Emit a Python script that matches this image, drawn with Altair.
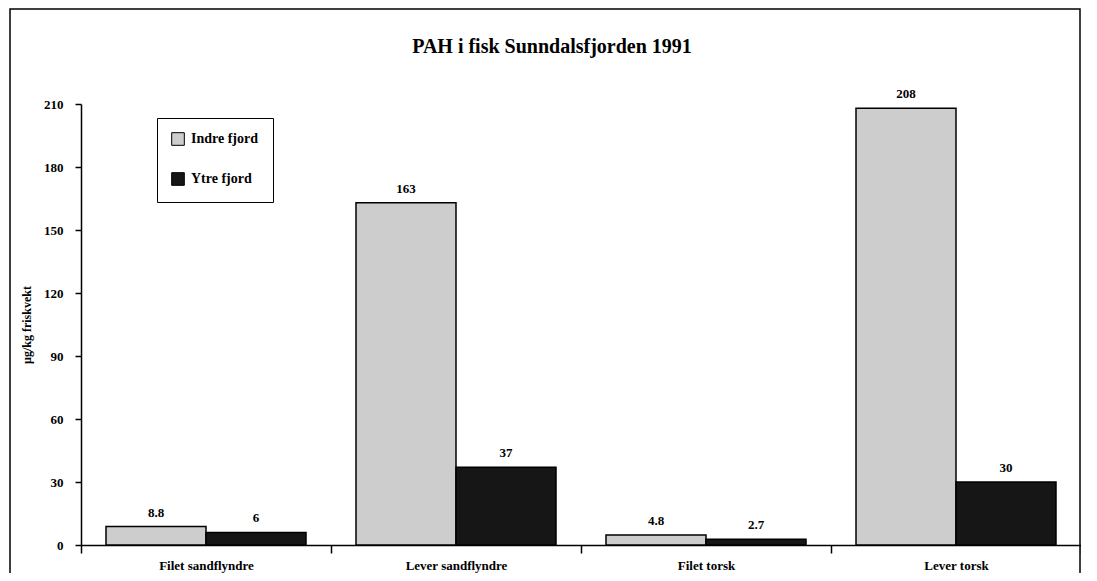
import altair as alt
import pandas as pd

categories = ["Filet sandflyndre", "Lever sandflyndre", "Filet torsk", "Lever torsk"]
series = ["Indre fjord", "Ytre fjord"]
indre = [8.8, 163, 4.8, 208]
ytre = [6, 37, 2.7, 30]
indre_labels = ["8.8", "163", "4.8", "208"]
ytre_labels = ["6", "37", "2.7", "30"]
y_ticks = [0, 30, 60, 90, 120, 150, 180, 210]
title_text = "PAH i fisk Sunndalsfjorden 1991"

rows = []
for c, v, l in zip(categories, indre, indre_labels):
    rows.append({"kategori": c, "serie": series[0], "verdi": v, "etikett": l})
for c, v, l in zip(categories, ytre, ytre_labels):
    rows.append({"kategori": c, "serie": series[1], "verdi": v, "etikett": l})
df = pd.DataFrame(rows)

FONT = "Liberation Serif, Times New Roman, serif"

x_enc = alt.X(
    "kategori:N",
    sort=categories,
    scale=alt.Scale(paddingInner=0, paddingOuter=0),
    axis=alt.Axis(
        title=None,
        labelAngle=0,
        tickBand="extent",
        tickSize=8,
        tickColor="black",
        tickWidth=1.5,
        domainColor="black",
        domainWidth=1.5,
        labelColor="black",
        labelFont=FONT,
        labelFontSize=13,
        labelFontWeight="bold",
        labelPadding=6,
        grid=False,
    ),
)
xoff = alt.XOffset("serie:N", sort=series, scale=alt.Scale(paddingInner=0, paddingOuter=0.25))
y_enc = alt.Y(
    "verdi:Q",
    scale=alt.Scale(domain=[0, 210], nice=False),
    axis=alt.Axis(
        title="µg/kg friskvekt",
        values=y_ticks,
        grid=False,
        tickSize=6,
        tickColor="black",
        tickWidth=1.5,
        domainColor="black",
        domainWidth=1.5,
        labelColor="black",
        labelFont=FONT,
        labelFontSize=13,
        labelFontWeight="bold",
        labelPadding=12,
        titleFont=FONT,
        titleFontSize=12,
        titleFontWeight="bold",
        titleColor="black",
        titlePadding=10,
    ),
)

bars = alt.Chart(df).mark_bar(stroke="black", strokeWidth=1.5).encode(
    x=x_enc,
    xOffset=xoff,
    y=y_enc,
    color=alt.Color(
        "serie:N",
        sort=series,
        scale=alt.Scale(domain=series, range=["#cdcdcd", "#161616"]),
        legend=alt.Legend(
            title=None,
            orient="none",
            legendX=76,
            legendY=14,
            fillColor="white",
            strokeColor="black",
            padding=14,
            rowPadding=22,
            symbolType="square",
            symbolSize=160,
            symbolStrokeColor="black",
            symbolStrokeWidth=1,
            labelFont=FONT,
            labelFontSize=14,
            labelFontWeight="bold",
            labelColor="black",
            labelOffset=6,
        ),
    ),
)

text = alt.Chart(df).mark_text(
    baseline="bottom", dy=-7, font=FONT, fontSize=13, fontWeight="bold", color="black"
).encode(
    x=alt.X("kategori:N", sort=categories),
    xOffset=alt.XOffset("serie:N", sort=series),
    y=alt.Y("verdi:Q"),
    text="etikett:N",
)

one = pd.DataFrame({"t": [title_text]})

title_mark = alt.Chart(one).mark_text(
    font=FONT, fontSize=20, fontWeight="bold", color="black", align="center", baseline="alphabetic"
).encode(x=alt.value(471), y=alt.value(-51), text="t:N")

frame = alt.Chart(one).mark_rect(
    filled=False, stroke="black", strokeWidth=1.5
).encode(
    x=alt.value(-71), x2=alt.value(999), y=alt.value(-95), y2=alt.value(500)
)

chart = alt.layer(bars, text, title_mark, frame).properties(
    width=1000,
    height=441,
    background="white",
    autosize=alt.AutoSizeParams(type="none"),
    padding={"left": 73, "top": 96, "right": 0, "bottom": 28},
).configure_view(stroke="transparent", strokeWidth=0).configure_axis(grid=False)

chart.save("out.html", embed_options={"renderer": "svg", "actions": False})
